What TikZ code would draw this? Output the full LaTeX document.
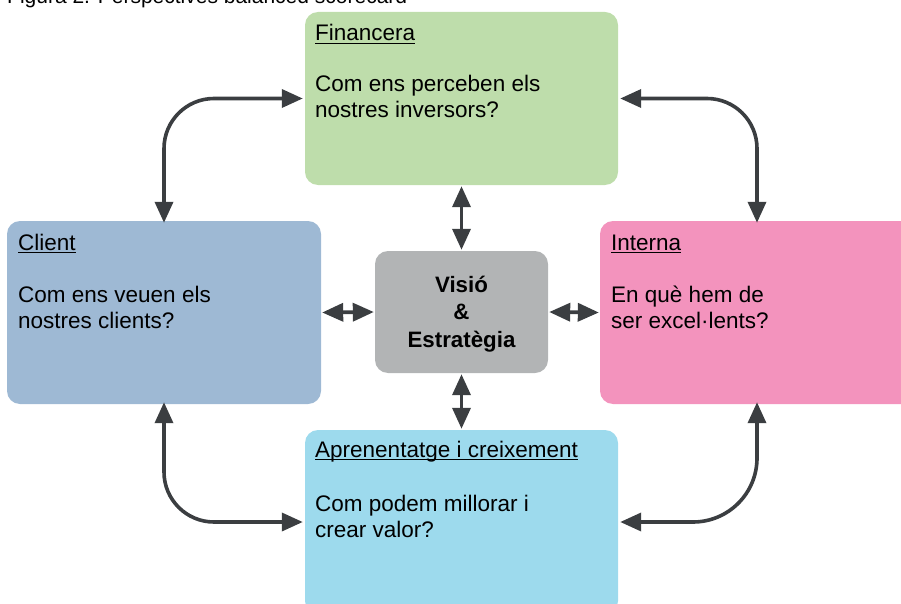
\documentclass[tikz,border=0pt]{standalone}
\usepackage{fontspec}
\setmainfont{Liberation Sans}
\usetikzlibrary{arrows.meta}

\definecolor{finfill}{HTML}{BEDDAB}
\definecolor{clifill}{HTML}{9EB9D4}
\definecolor{intfill}{HTML}{F393BD}
\definecolor{aprfill}{HTML}{9DDAED}
\definecolor{visfill}{HTML}{B2B4B5}
\definecolor{arrowgray}{HTML}{3B3E41}

\tikzset{
  panel/.style={rectangle, rounded corners=13pt, draw=none, inner sep=0pt},
  line/.style={anchor=base west, inner sep=0pt, font=\fontsize{22.5}{26}\selectfont},
  heading/.style={line},
  core/.style={anchor=base, inner sep=0pt, font=\fontsize{22.3}{27}\selectfont\bfseries},
  uline/.style={line width=1.4pt, black},
  link/.style={line width=3.6pt, draw=arrowgray,
    {Triangle[length=21pt,width=18pt]}-{Triangle[length=21pt,width=18pt]}},
  ringlink/.style={link, rounded corners=50pt}
}

\begin{document}
\begin{tikzpicture}[x=1pt,y=-1pt]
\useasboundingbox (0,0) rectangle (901,604);
\clip (0,0) rectangle (901,604);

% caption, partly above the page edge
\node[anchor=base west, inner sep=0pt, font=\fontsize{21}{25}\selectfont] (cap) at (7,4)
  {Figura 2. Perspectives balanced scorecard};

% the five panels
\node[panel, fill=finfill, minimum width=313pt, minimum height=173pt] (fin) at (461.5,98.5) {};
\node[panel, fill=clifill, minimum width=314pt, minimum height=183pt] (cli) at (164,312.5) {};
\node[panel, fill=intfill, minimum width=314pt, minimum height=183pt] (int) at (757,312.5) {};
\node[panel, fill=aprfill, minimum width=313pt, minimum height=184pt] (apr) at (461.5,522) {};
\node[panel, fill=visfill, minimum width=173pt, minimum height=122pt] (vis) at (461.5,312) {};

% panel texts
\node[heading] (fint) at (315,41) {Financera};
\node[line] (fin1) at (315,92) {Com ens perceben els};
\node[line] (fin2) at (315,118) {nostres inversors?};

\node[heading] (clit) at (18,250) {Client};
\node[line] (cli1) at (18,302) {Com ens veuen els};
\node[line] (cli2) at (18,328) {nostres clients?};

\node[heading] (intt) at (611,250) {Interna};
\node[line] (int1) at (611,302) {En què hem de};
\node[line] (int2) at (611,328) {ser excel·lents?};

\node[heading] (aprt) at (315,457) {Aprenentatge i creixement};
\node[line] (apr1) at (315,511) {Com podem millorar i};
\node[line] (apr2) at (315,537) {crear valor?};

\node[core] (vis1) at (461.5,292) {Visió};
\node[core] (vis2) at (461.5,319) {\&};
\node[core] (vis3) at (461.5,347) {Estratègia};

% underlined headings
\foreach \h in {fint,clit,intt,aprt}
  \draw[uline] ([yshift=-2.6pt]\h.base west) -- ([yshift=-2.6pt]\h.base east);

% links to the centre
\draw[link] ([yshift=-1pt]fin.south) -- ([yshift=1pt]vis.north);
\draw[link] ([yshift=1pt]apr.north) -- ([yshift=-1pt]vis.south);
\draw[link] ([xshift=1pt]cli.east) -- ([xshift=-1pt]vis.west);
\draw[link] ([xshift=-1pt]int.west) -- ([xshift=1pt]vis.east);

% links around the ring
\draw[ringlink] ([xshift=-2pt]fin.west) -| ([yshift=-2pt]cli.north);
\draw[ringlink] ([xshift=2pt]fin.east) -| ([yshift=-2pt]int.north);
\draw[ringlink] ([xshift=-2pt]apr.west) -| ([yshift=2pt]cli.south);
\draw[link, rounded corners=64pt] ([xshift=2pt]apr.east) -| ([yshift=2pt]int.south);
\end{tikzpicture}
\end{document}
